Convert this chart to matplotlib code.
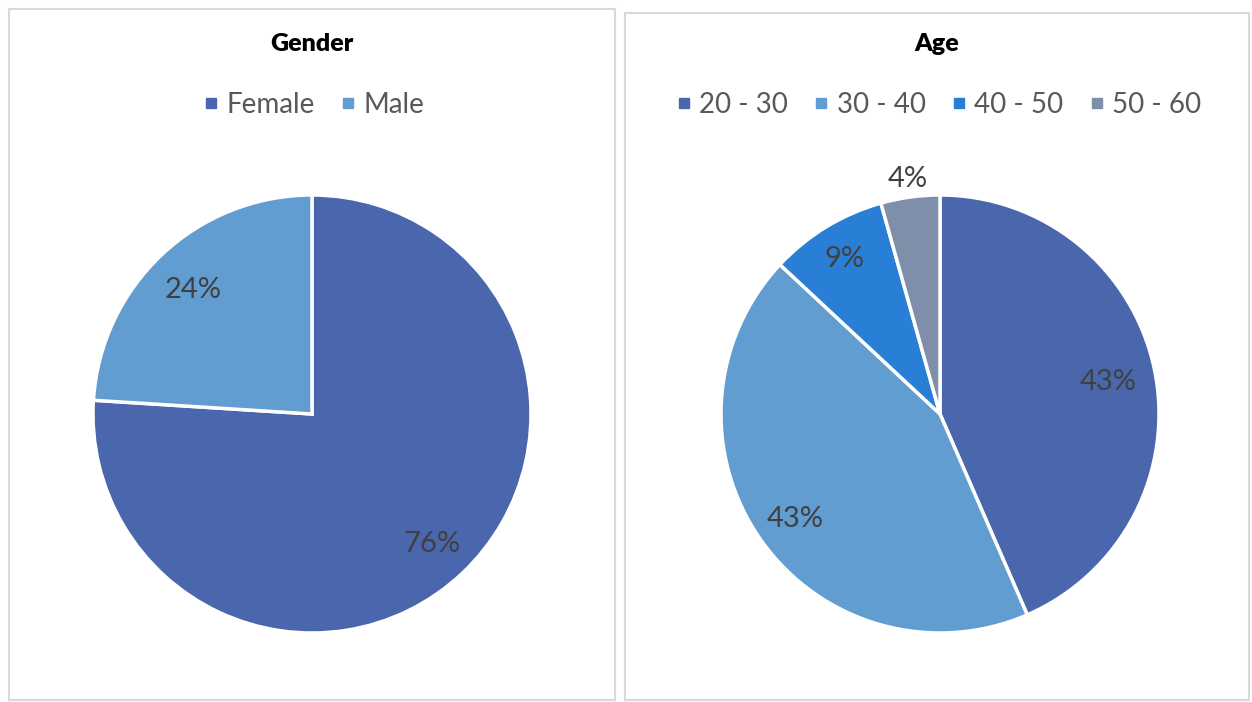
import numpy as np
import matplotlib
matplotlib.use("Agg")
import matplotlib.pyplot as plt
from matplotlib.patches import Rectangle
from matplotlib.lines import Line2D

plt.rcParams['font.family'] = ['Lato', 'DejaVu Sans']

# Data
gender_labels = ["Female", "Male"]
gender_values = [76, 24]
gender_colors = ["#4A66AC", "#629DD1"]

age_labels = ["20 - 30", "30 - 40", "40 - 50", "50 - 60"]
age_values = [43.48, 43.48, 8.70, 4.35]
age_colors = ["#4A66AC", "#629DD1", "#297FD5", "#7F8FA9"]

W, H = 1252, 702
fig = plt.figure(figsize=(W / 100, H / 100), dpi=100)
fig.patch.set_facecolor("white")

LABEL_FS = 21


def px_rect(x0, y0, x1, y1):
    # pixel box (top-left origin) -> figure fraction [l, b, w, h]
    return [x0 / W, 1 - y1 / H, (x1 - x0) / W, (y1 - y0) / H]


def draw_panel(box, center, radius, title, labels, values, colors, label_dist):
    l, b, w, h = px_rect(*box)
    fig.patches.append(Rectangle((l, b), w, h, transform=fig.transFigure,
                                 facecolor="none", edgecolor="#D9D9D9", lw=1.5, zorder=0))
    cx, cy = center
    ax = fig.add_axes(px_rect(cx - radius, cy - radius, cx + radius, cy + radius))
    wedges, _ = ax.pie(values, colors=colors, startangle=90, counterclock=False,
                       radius=1, wedgeprops=dict(edgecolor="white", linewidth=2.5))
    ax.set_xlim(-1, 1)
    ax.set_ylim(-1, 1)
    ax.set_aspect("equal")
    ax.axis("off")
    total = sum(values)
    for wdg, v, d in zip(wedges, values, label_dist):
        ang = np.deg2rad((wdg.theta1 + wdg.theta2) / 2)
        # baseline + half cap height so the digits are centred on the point
        ax.annotate(f"{v / total * 100:.0f}%", (d * np.cos(ang), d * np.sin(ang)),
                    xytext=(0, -0.36 * LABEL_FS), textcoords="offset points",
                    ha="center", va="baseline", fontsize=LABEL_FS, color="#404040",
                    annotation_clip=False)

    mid_x = (box[0] + box[2]) / 2
    fig.text(mid_x / W, 1 - 44 / H, title, ha="center", va="center",
             fontsize=18, fontweight="heavy", color="black")
    handles = [Line2D([], [], marker="s", linestyle="none", markersize=7,
                      markerfacecolor=c, markeredgecolor=c) for c in colors]
    fig.legend(handles, labels, loc="center", bbox_to_anchor=(mid_x / W, 1 - 105 / H),
               ncol=len(labels), frameon=False, fontsize=20, labelcolor="#595959",
               handletextpad=0.15, columnspacing=0.8, handlelength=0.8)


draw_panel((9, 9, 615, 700), (312, 414), 219, "Gender",
           gender_labels, gender_values, gender_colors, [0.80, 0.79])
draw_panel((625, 13, 1249, 700), (940, 414), 219, "Age",
           age_labels, age_values, age_colors, [0.785, 0.81, 0.84, 1.095])

fig.savefig("out.png", dpi=100)
